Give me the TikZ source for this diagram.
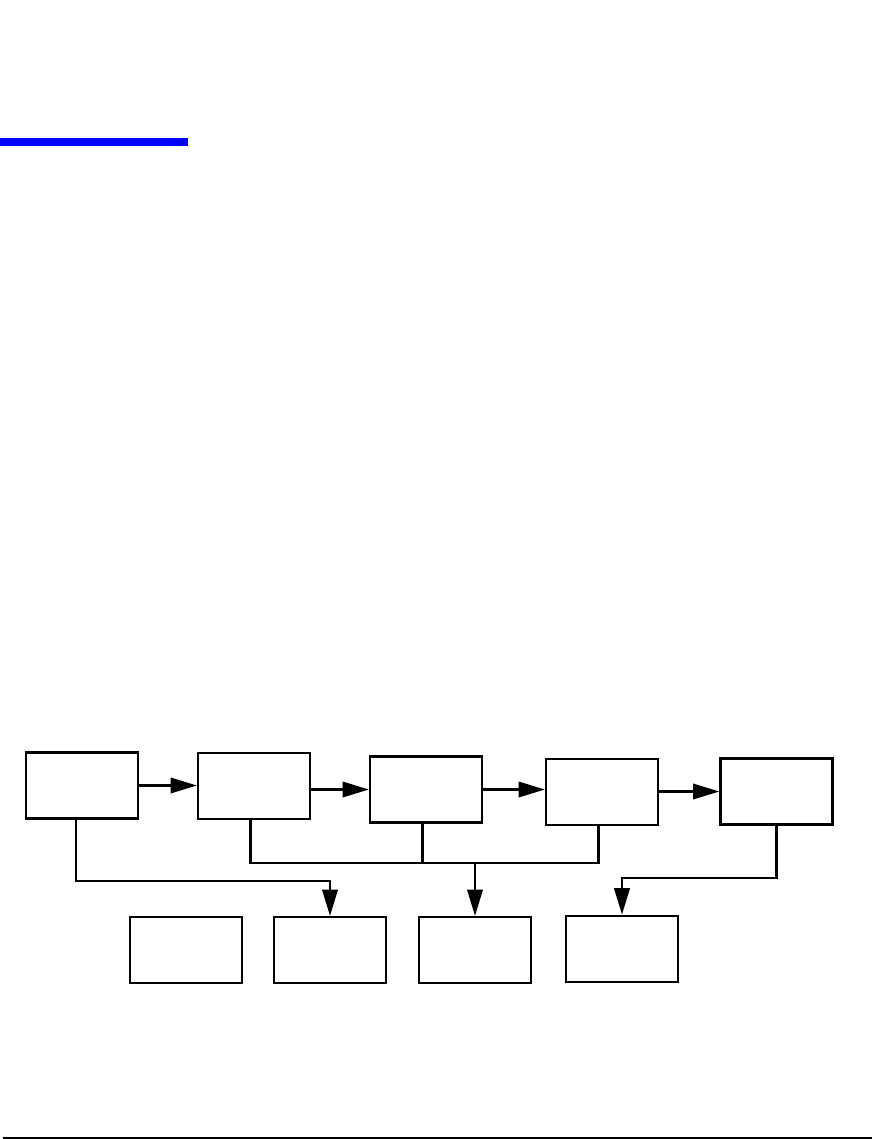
\documentclass[tikz,border=0pt]{standalone}
\usetikzlibrary{arrows.meta,calc}
\begin{document}
\begin{tikzpicture}[x=0.02cm, y=-0.02cm, line width=1.3pt,
    blk/.style={draw, minimum width=2.24cm, minimum height=1.32cm, inner sep=0pt},
    arr/.style={-{Triangle[length=15pt, width=8.8pt]}}]
  \useasboundingbox (0,0) rectangle (872,1139);
  \fill[blue] (0,138) rectangle (188,146);
  \fill (3,1136.5) rectangle (872,1138.8);
  % obere Reihe
  \node[blk] (s1) at (82,785.5) {};
  \node[blk] (s2) at (254,786) {};
  \node[blk] (s3) at (426,789.5) {};
  \node[blk] (s4) at (602,792) {};
  \node[blk] (s5) at (776.5,791.5) {};
  % untere Reihe
  \node[blk] (t1) at (186,950) {};
  \node[blk] (t2) at (330,950) {};
  \node[blk] (t3) at (475,950) {};
  \node[blk] (t4) at (622,948.7) {};
  \draw[arr] (s1.east) -- (s1.east -| s2.west);
  \draw[arr] (s2.east |- s3.west) -- (s3.west);
  \draw[arr] (s3.east) -- (s3.east -| s4.west);
  \draw[arr] (s4.east |- s5.west) -- (s5.west);
  \coordinate (bus) at (475,863);
  \coordinate (k1) at (330,881);
  \coordinate (k5) at (622,878);
  \draw ([xshift=-2pt]s2.south) |- (bus) -| ([xshift=-2pt]s4.south);
  \draw ([xshift=-2pt]s3.south) -- ([xshift=-2pt]s3.south |- bus);
  \draw[arr] (bus) -- (t3.north);
  \draw[arr] ([xshift=-3.4pt]s1.south) |- (k1) -- (t2.north);
  \draw[arr] (s5.south) |- (k5) -- (t4.north);
\end{tikzpicture}
\end{document}
